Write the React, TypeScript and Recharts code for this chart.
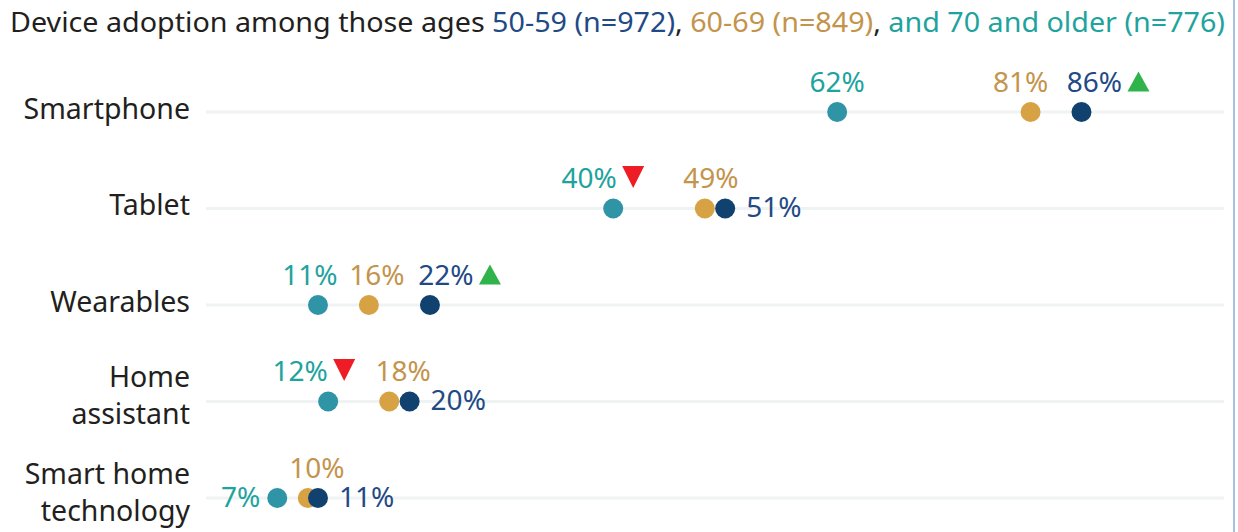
import React from 'react';
import { ScatterChart, Scatter, XAxis, YAxis, CartesianGrid } from 'recharts';

// ---- data ----
const categories = ['Smartphone', 'Tablet', 'Wearables', 'Home assistant', 'Smart home technology'];
const categoryTickLines = [['Smartphone'], ['Tablet'], ['Wearables'], ['Home', 'assistant'], ['Smart home', 'technology']];
const ages5059 = [86, 51, 22, 20, 11];
const ages6069 = [81, 49, 16, 18, 10];
const ages70plus = [62, 40, 11, 12, 7];
const sig5059: (string | null)[] = ['up', null, 'up', null, null];
const sig6069: (string | null)[] = [null, null, null, null, null];
const sig70plus: (string | null)[] = [null, 'down', null, 'down', null];
const titleParts = [
  { text: 'Device adoption among those ages ', key: 'base' },
  { text: '50-59 (n=972)', key: 's5059' },
  { text: ', ', key: 'base' },
  { text: '60-69 (n=849)', key: 's6069' },
  { text: ', ', key: 'base' },
  { text: 'and 70 and older (n=776)', key: 's70' },
];

// ---- styles ----
const FONT = '"Noto Sans", sans-serif';
const textColors: Record<string, string> = {
  base: '#231f20',
  s5059: '#1f4a86',
  s6069: '#c4944c',
  s70: '#1ea39e',
};
const dotColors: Record<string, string> = {
  s5059: '#11416e',
  s6069: '#d6a244',
  s70: '#2e94a6',
};
type Place = { pos: 'top' | 'right' | 'left'; dx?: number };
const labelLayout: Record<string, Place> = {
  's70|0': { pos: 'top', dx: 0 },
  's6069|0': { pos: 'top', dx: -10 },
  's5059|0': { pos: 'top', dx: 13 },
  's70|1': { pos: 'top', dx: -24 },
  's6069|1': { pos: 'top', dx: 6 },
  's5059|1': { pos: 'right' },
  's70|2': { pos: 'top', dx: -8 },
  's6069|2': { pos: 'top', dx: 8 },
  's5059|2': { pos: 'top', dx: 16 },
  's70|3': { pos: 'top', dx: -28 },
  's6069|3': { pos: 'top', dx: 14 },
  's5059|3': { pos: 'right' },
  's70|4': { pos: 'left' },
  's6069|4': { pos: 'top', dx: 9 },
  's5059|4': { pos: 'right' },
};

const build = (vals: number[], sig: (string | null)[]) =>
  categories.map((c, i) => ({ x: vals[i], y: i, cat: c, sig: sig[i] }));

const series = [
  { key: 's70', data: build(ages70plus, sig70plus) },
  { key: 's6069', data: build(ages6069, sig6069) },
  { key: 's5059', data: build(ages5059, sig5059) },
];

const makeShape = (key: string) => (props: any) => {
  const { cx, cy, payload } = props;
  if (cx == null || cy == null) return <g />;
  const lay = labelLayout[`${key}|${payload.y}`] || { pos: 'top', dx: 0 };
  const label = `${payload.x}%`;
  let tx = cx;
  let ty = cy - 20.5;
  let anchor: 'middle' | 'start' | 'end' = 'middle';
  if (lay.pos === 'top') {
    tx = cx + (lay.dx || 0);
  } else if (lay.pos === 'right') {
    tx = cx + 21;
    ty = cy + 8.5;
    anchor = 'start';
  } else {
    tx = cx - 17;
    ty = cy + 8.5;
    anchor = 'end';
  }
  let tri: React.ReactNode = null;
  if (payload.sig) {
    const left = tx + 33;
    const w = 22;
    if (payload.sig === 'up') {
      tri = <polygon points={`${left},${ty} ${left + w},${ty} ${left + w / 2},${ty - 20}`} fill="#2fb34b" />;
    } else {
      tri = <polygon points={`${left},${ty - 22} ${left + w},${ty - 22} ${left + w / 2},${ty}`} fill="#ee1d25" />;
    }
  }
  return (
    <g>
      <circle cx={cx} cy={cy} r={10} fill={dotColors[key]} />
      <text x={tx} y={ty} textAnchor={anchor} fontFamily={FONT} fontSize={28} fill={textColors[key]}>
        {label}
      </text>
      {tri}
    </g>
  );
};

const CategoryTick = (props: any) => {
  const { y, payload } = props;
  const lines = categoryTickLines[payload.value] || [];
  const offsets = lines.length === 1 ? [6.5] : [-14.5, 22.5];
  return (
    <g>
      {lines.map((l, i) => (
        <text key={i} x={190} y={y + offsets[i]} textAnchor="end" fontFamily={FONT} fontSize={28.5} fill="#231f20">
          {l}
        </text>
      ))}
    </g>
  );
};

export default function App() {
  return (
    <div style={{ position: 'absolute', left: 0, top: 0, width: 1238, height: 532, background: '#fff', overflow: 'hidden' }}>
      <svg width={1238} height={50} style={{ position: 'absolute', left: 0, top: 0 }}>
        <text x={10} y={32} fontFamily={FONT} fontSize={27.5} textLength={1215} lengthAdjust="spacingAndGlyphs">
          {titleParts.map((p, i) => (
            <tspan key={i} fill={textColors[p.key]}>
              {p.text}
            </tspan>
          ))}
        </text>
      </svg>
      <div style={{ position: 'absolute', left: 0, top: 0 }}>
        <ScatterChart width={1238} height={532} margin={{ top: 112, right: 14, bottom: 34, left: 0 }}>
          <CartesianGrid vertical={false} stroke="#f0f3f3" strokeWidth={3} />
          <XAxis type="number" dataKey="x" domain={[0, 100]} hide />
          <YAxis
            type="number"
            dataKey="y"
            domain={[0, 4]}
            ticks={[0, 1, 2, 3, 4]}
            reversed
            width={206}
            axisLine={false}
            tickLine={false}
            tick={<CategoryTick />}
            interval={0}
          />
          {series.map((s) => (
            <Scatter key={s.key} data={s.data} isAnimationActive={false} shape={makeShape(s.key)} />
          ))}
        </ScatterChart>
      </div>
      <div style={{ position: 'absolute', left: 1233, top: 0, width: 2, height: 532, background: '#a8c0e2' }} />
    </div>
  );
}
